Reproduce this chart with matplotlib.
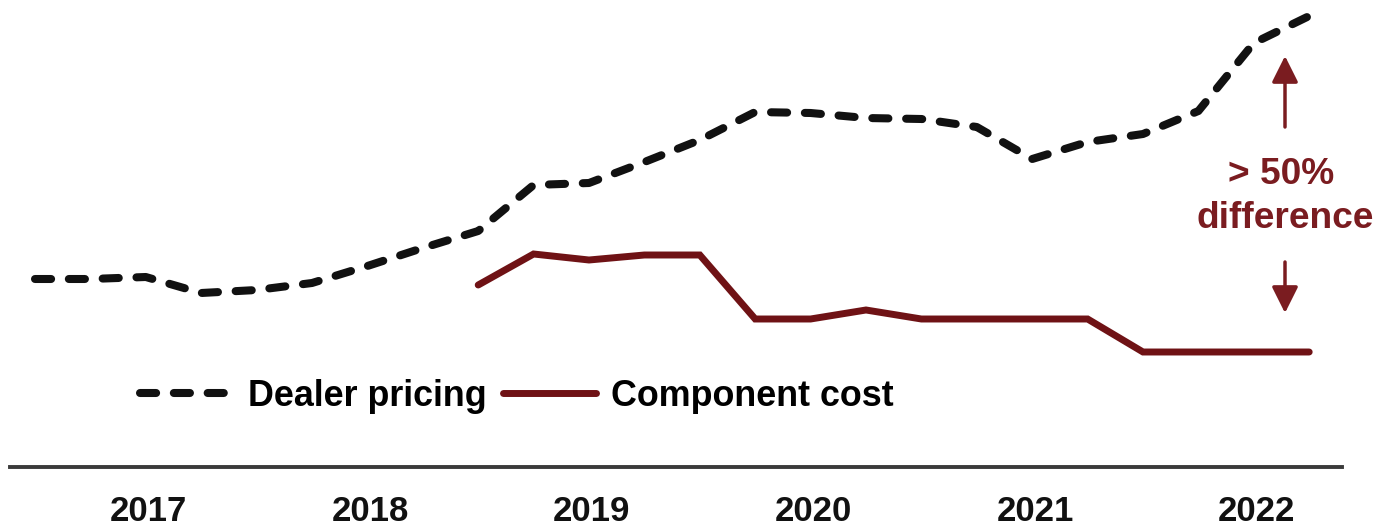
import matplotlib
matplotlib.use("Agg")
import matplotlib.pyplot as plt

# ---- data (index values, quarterly) ----
quarters = [f"{y}Q{q}" for y in range(2017, 2023) for q in range(1, 5)]
dealer_pricing = [60.5, 60.5, 61.5, 53.5, 55, 58.5, 67, 76, 84.5, 107.5, 108.5, 119,
                  130, 144, 143.5, 141, 140.5, 136.5, 120.5, 129, 133, 144.5, 178.5, 192]
component_quarters = quarters[8:]
component_cost = [57.5, 73, 70, 72.5, 72.5, 40.5, 40.5, 45, 40.5, 40.5, 40.5, 40.5,
                  24, 24, 24, 24]
years = ["2017", "2018", "2019", "2020", "2021", "2022"]

# ---- style ----
plt.rcParams['font.family'] = ['Liberation Sans', 'DejaVu Sans']
BLACK = "#111111"
MAROON = "#6f1215"
TEXT_MAROON = "#7a1c20"

W, H, DPI = 1390, 527, 100
fig = plt.figure(figsize=(W / DPI, H / DPI), dpi=DPI)
ax = fig.add_axes([0, 60 / H, 1, 1 - 60 / H])

xq = {q: i for i, q in enumerate(quarters)}
xd = [xq[q] for q in quarters]
xc = [xq[q] for q in component_quarters]

dash_kw = dict(linestyle=(0, (2.0, 2.2)), dash_capstyle='round', solid_capstyle='round')
ax.plot(xd, dealer_pricing, color=BLACK, lw=5.8, **dash_kw, label="Dealer pricing")
ax.plot(xc, component_cost, color=MAROON, lw=5.0, solid_capstyle='round',
        solid_joinstyle='miter', label="Component cost")

ax.set_xlim(-35 / 55.4, (W - 35) / 55.4)
ax.set_ylim(-33.5, 200)

# axis styling: bottom spine as separator, year labels below
for s in ['top', 'right', 'left']:
    ax.spines[s].set_visible(False)
ax.spines['bottom'].set_color('#3a3a3a')
ax.spines['bottom'].set_linewidth(2.8)
ax.spines['bottom'].set_bounds(-0.45, 23.6)
ax.set_yticks([])
ax.set_xticks([4 * k + 2.05 for k in range(len(years))])
ax.set_xticklabels(years, fontsize=25, fontweight='bold', color=BLACK)
ax.tick_params(axis='x', length=0, pad=20)

# legend
leg = ax.legend(loc='center left', bbox_to_anchor=(140 / W, (H - 396) / H),
                bbox_transform=fig.transFigure, ncol=2, frameon=False,
                prop=dict(size=25.8, weight='bold'), handlelength=2.6,
                handletextpad=0.42, columnspacing=0.45, borderpad=0, borderaxespad=0)

# annotation
ax_x = (1285 - 35) / 55.4
ax.annotate('', xy=(ax_x, (400 - 56) / 2), xytext=(ax_x, (400 - 127) / 2),
            arrowprops=dict(arrowstyle='-|>,head_length=0.4,head_width=0.2',
                            mutation_scale=40, color=TEXT_MAROON, lw=2.5,
                            shrinkA=0, shrinkB=0))
ax.annotate('', xy=(ax_x, (400 - 313) / 2), xytext=(ax_x, (400 - 262) / 2),
            arrowprops=dict(arrowstyle='-|>,head_length=0.4,head_width=0.2',
                            mutation_scale=40, color=TEXT_MAROON, lw=2.5,
                            shrinkA=0, shrinkB=0))
ax.text((1281 - 35) / 55.4, (400 - 174) / 2, "> 50%", ha='center', va='center',
        fontsize=26.7, fontweight='bold', color=TEXT_MAROON)
ax.text((1285 - 35) / 55.4, (400 - 219) / 2, "difference", ha='center', va='center',
        fontsize=26.7, fontweight='bold', color=TEXT_MAROON)

fig.savefig("out.png", dpi=DPI, facecolor='white')
